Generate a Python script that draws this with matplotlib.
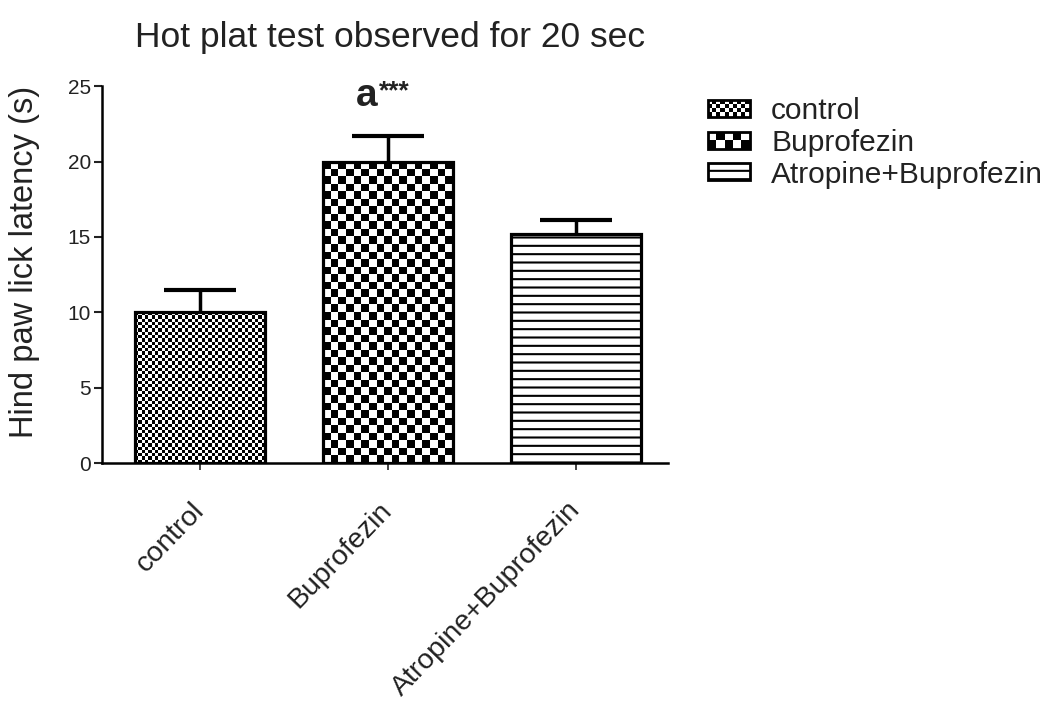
import numpy as np
import matplotlib
matplotlib.use("Agg")
import matplotlib.pyplot as plt
from matplotlib.patches import Patch, Rectangle
from matplotlib.legend_handler import HandlerBase

plt.rcParams['font.family'] = ['Liberation Sans', 'DejaVu Sans']
plt.rcParams['hatch.linewidth'] = 1.5

# data
groups = ['control', 'Buprofezin', 'Atropine+Buprofezin']
means = [10.0, 20.0, 15.2]
errors = [1.5, 1.7, 0.95]
mark_text = 'a'
mark_stars = '***'

# checker cell size in pixels (0 = no checker, use hatch instead)
cell_px = [3.3, 7.6, 0]


class CheckerHandler(HandlerBase):
    def __init__(self, ncols):
        super().__init__()
        self.ncols = ncols

    def create_artists(self, legend, orig_handle, xdescent, ydescent,
                       width, height, fontsize, trans):
        arts = []
        cw = width / self.ncols
        rows = max(1, int(round(height / cw)))
        chh = height / rows
        arts.append(Rectangle((-xdescent, -ydescent), width, height,
                              facecolor='white', edgecolor='none', transform=trans))
        for i in range(self.ncols):
            for j in range(rows):
                if (i + j) % 2 == 0:
                    arts.append(Rectangle((-xdescent + i * cw, -ydescent + j * chh), cw, chh,
                                          facecolor='black', edgecolor='none', transform=trans))
        arts.append(Rectangle((-xdescent, -ydescent), width, height, fill=False,
                              edgecolor='black', linewidth=2, transform=trans))
        return arts


fig = plt.figure(figsize=(10.58, 7.01), dpi=100)
ax = fig.add_axes([0.0965, 0.3395, 0.535, 0.5375])

x = np.arange(len(groups))
width = 0.69
ax.set_xlim(-0.52, 2.49)
ax.set_ylim(0, 25)

faces = ['none' if c else 'white' for c in cell_px]
bars = ax.bar(x, means, width, color=faces, edgecolor='black',
              linewidth=2.3, zorder=3)
bars[2].set_hatch('--')

# checker fill for the first two bars, clipped to the bar outline
fig.canvas.draw()
px_x = ax.transData.transform((1, 0))[0] - ax.transData.transform((0, 0))[0]
px_y = ax.transData.transform((0, 1))[1] - ax.transData.transform((0, 0))[1]
for i, b in enumerate(bars):
    if cell_px[i] == 0:
        continue
    nx = int(round(width * px_x / cell_px[i]))
    ny = int(round(means[i] * px_y / cell_px[i]))
    board = (np.add.outer(np.arange(ny), np.arange(nx)) % 2).astype(float)
    im = ax.imshow(board, cmap='gray', interpolation='nearest', aspect='auto',
                   extent=(x[i] - width / 2, x[i] + width / 2, 0, means[i]),
                   zorder=2, vmin=0, vmax=1)
    im.set_clip_path(b)
ax.set_xlim(-0.52, 2.49)
ax.set_ylim(0, 25)

ax.errorbar(x, means, yerr=errors, fmt='none', ecolor='black',
            elinewidth=2.5, capsize=26, capthick=3, zorder=1)

# significance mark above the Buprofezin bar
ax.text(0.945, 23.7, mark_text, fontsize=28, fontweight='bold', ha='right',
        va='baseline', color='#222222', clip_on=False)
ax.text(0.95, 24.2, mark_stars, fontsize=19, fontweight='bold', ha='left',
        va='baseline', color='#222222', clip_on=False)

ax.spines['top'].set_visible(False)
ax.spines['right'].set_visible(False)
ax.spines['left'].set_linewidth(1.8)
ax.spines['bottom'].set_linewidth(1.8)
ax.set_yticks([0, 5, 10, 15, 20, 25])
ax.tick_params(axis='y', labelsize=15, length=6, width=1.5, colors='#222222', pad=2)
ax.tick_params(axis='x', labelsize=20.5, length=5, width=1.2, colors='#222222', pad=26)
ax.set_xticks(x)
ax.set_xticklabels(groups, rotation=46, ha='right', va='center', rotation_mode='anchor')
ax.set_ylabel('Hind paw lick latency (s)', fontsize=23.5, color='#222222')
ax.yaxis.set_label_coords(-0.11, 0.533)

fig.text(0.369, 0.933, 'Hot plat test observed for 20 sec', fontsize=25.5,
         ha='center', va='baseline', color='#222222')

handles = [Patch(facecolor='white', edgecolor='black'),
           Patch(facecolor='white', edgecolor='black'),
           Patch(facecolor='white', edgecolor='black', hatch='--', linewidth=2)]
fig.legend(handles, groups, loc='upper left', bbox_to_anchor=(0.669, 0.862),
           frameon=False, fontsize=21.5, handlelength=1.4, handleheight=0.5,
           labelspacing=0.13, handletextpad=0.72, borderpad=0, borderaxespad=0,
           labelcolor='#222222',
           handler_map={handles[0]: CheckerHandler(10), handles[1]: CheckerHandler(5)})

fig.savefig('out.png', dpi=100, facecolor='white')
